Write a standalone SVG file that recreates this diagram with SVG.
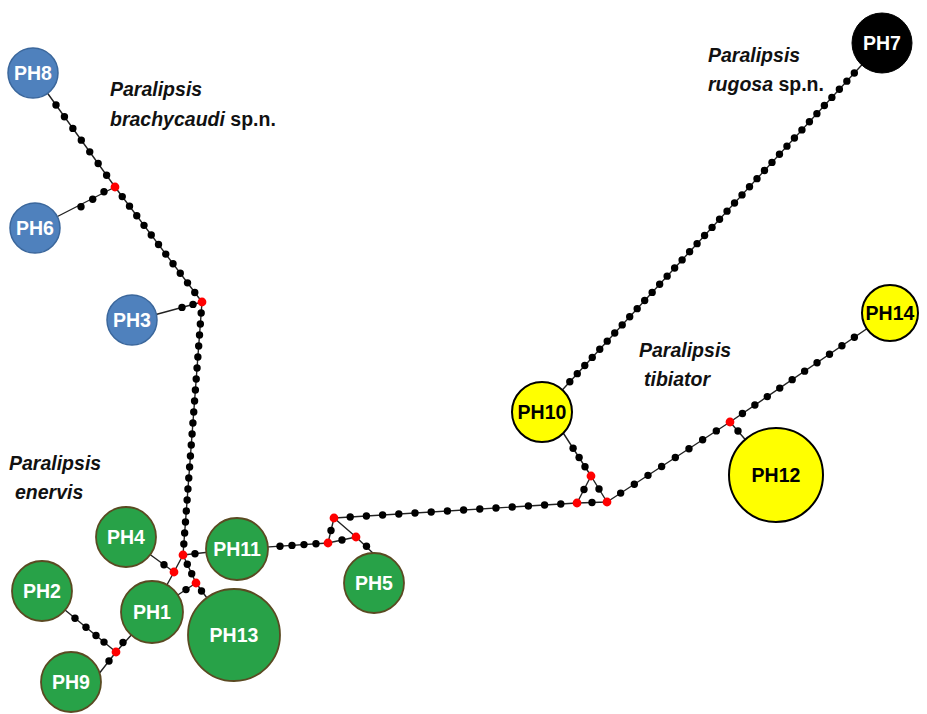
<svg xmlns="http://www.w3.org/2000/svg" width="927" height="714" viewBox="0 0 927 714">
<style>
.ln{stroke:#222;stroke-width:1.4;fill:none}
.ch{fill:none;stroke:#000;stroke-width:7.4;stroke-linecap:round}
.d{fill:#000}
.r{fill:#f00}
.blue{fill:#4f81bd;stroke:#3b679c;stroke-width:1.5}
.green{fill:#28a248;stroke:#5a4a22;stroke-width:1.8}
.yel{fill:#ffff00;stroke:#000;stroke-width:2}
.blk{fill:#000;stroke:#000}
.lbl{font-family:"Liberation Sans",Arial,sans-serif;font-weight:bold;font-size:19.5px;text-anchor:middle}
.w{fill:#fff}
.k{fill:#000}
.sp{font-family:"Liberation Sans",Arial,sans-serif;font-weight:bold;font-style:italic;font-size:19.5px;fill:#111}
.n{font-style:normal}
</style>
<rect width="927" height="714" fill="#fff"/>
<g id="connectors">
  <path class="ln" d="M33,73L115,187M35,228L115,187M115,187L202,302M132,321L202,302M202,302L183,555M183,555L237,549M183,555L174,572M183,555L196,583M174,572L126,537M174,572L152,612M196,583L152,612M196,583L234,635M237,549L328,543M334,518L328,543M328,543L356,537M334,518L356,537M356,537L376,556M334,518L577,503M577,503L591,476M591,476L607,502M577,503L607,502M591,476L560,428M607,502L730,422M730,422L776,475M730,422L890,313M542,412L882,43M116,652L42,591M116,652L152,612M116,652L98,675"/>
  <path class="ch" d="M56,105L107,175.8" stroke-dasharray="0 14.43"/>
  <path class="ch" d="M115,187L202,302" stroke-dasharray="0 12.02"/>
  <path class="ch" d="M202,302L183,555" stroke-dasharray="0 11.03"/>
  <path class="ch" d="M334,518L577,503" stroke-dasharray="0 16.23"/>
  <path class="ch" d="M607,502L730,422" stroke-dasharray="0 16.3"/>
  <path class="ch" d="M730,422L855.2,336.7" stroke-dasharray="0 15.05"/>
  <path class="ch" d="M569.8,381.8L855,72.3" stroke-dasharray="0 11.05"/>
  <g class="d">
    <circle cx="81" cy="206.7" r="3.7"/><circle cx="92.7" cy="199.3" r="3.7"/><circle cx="104" cy="191.7" r="3.7"/>
    <circle cx="182" cy="307.4" r="3.7"/><circle cx="193" cy="304.4" r="3.7"/>
    <circle cx="195" cy="553.7" r="3.7"/>
    <circle cx="187.3" cy="564.3" r="3.7"/><circle cx="191.7" cy="573.7" r="3.7"/>
    <circle cx="164" cy="564.7" r="3.7"/>
    <circle cx="186" cy="589.6" r="3.7"/>
    <circle cx="201.5" cy="591" r="3.7"/>
    <circle cx="280" cy="546.2" r="3.7"/><circle cx="292" cy="545.4" r="3.7"/><circle cx="304" cy="544.6" r="3.7"/><circle cx="316" cy="543.8" r="3.7"/>
    <circle cx="331" cy="530.5" r="3.7"/>
    <circle cx="342" cy="540" r="3.7"/>
    <circle cx="366.5" cy="546.3" r="3.7"/>
    <circle cx="584" cy="489.5" r="3.7"/><circle cx="599" cy="489" r="3.7"/><circle cx="592" cy="502.5" r="3.7"/>
    <circle cx="585" cy="466.7" r="3.7"/><circle cx="579.1" cy="457.5" r="3.7"/><circle cx="573.1" cy="448.2" r="3.7"/>
    <circle cx="738" cy="431" r="3.7"/>
    <circle cx="75" cy="618.2" r="3.7"/><circle cx="86" cy="627.3" r="3.7"/><circle cx="96" cy="635.5" r="3.7"/><circle cx="104" cy="642.1" r="3.7"/>
    <circle cx="123" cy="642.5" r="3.7"/>
    <circle cx="109" cy="661" r="3.7"/>
  </g>
  <g class="r">
    <circle cx="115" cy="187" r="4.4"/><circle cx="202" cy="302" r="4.4"/><circle cx="183" cy="555" r="4.4"/><circle cx="174" cy="572" r="4.4"/><circle cx="196" cy="583" r="4.4"/><circle cx="116" cy="652" r="4.4"/>
    <circle cx="334" cy="518" r="4.4"/><circle cx="328" cy="543" r="4.4"/><circle cx="356" cy="537" r="4.4"/>
    <circle cx="591" cy="476" r="4.4"/><circle cx="577" cy="503" r="4.4"/><circle cx="607" cy="502" r="4.4"/><circle cx="730" cy="422" r="4.4"/>
  </g>
</g>
<g id="PH8"><circle class="blue" cx="33" cy="73" r="25"/><text class="lbl w" x="33" y="80">PH8</text></g>
<g id="PH6"><circle class="blue" cx="35" cy="228" r="25"/><text class="lbl w" x="35" y="235">PH6</text></g>
<g id="PH3"><circle class="blue" cx="132" cy="320" r="25"/><text class="lbl w" x="132" y="327">PH3</text></g>
<g id="PH7"><circle class="blk" cx="882" cy="43" r="30"/><text class="lbl w" x="882" y="50">PH7</text></g>
<g id="PH14"><circle class="yel" cx="890" cy="313" r="28"/><text class="lbl k" x="890" y="320">PH14</text></g>
<g id="PH10"><circle class="yel" cx="542" cy="412" r="30"/><text class="lbl k" x="542" y="419">PH10</text></g>
<g id="PH12"><circle class="yel" cx="776" cy="475" r="47"/><text class="lbl k" x="776" y="482">PH12</text></g>
<g id="PH4"><circle class="green" cx="126" cy="537" r="30"/><text class="lbl w" x="126" y="544">PH4</text></g>
<g id="PH2"><circle class="green" cx="42" cy="591" r="30"/><text class="lbl w" x="42" y="598">PH2</text></g>
<g id="PH1"><circle class="green" cx="152" cy="612" r="31"/><text class="lbl w" x="152" y="619">PH1</text></g>
<g id="PH9"><circle class="green" cx="71" cy="682" r="30"/><text class="lbl w" x="71" y="689">PH9</text></g>
<g id="PH11"><circle class="green" cx="237" cy="549" r="31"/><text class="lbl w" x="237" y="556">PH11</text></g>
<g id="PH13"><circle class="green" cx="234" cy="635" r="46"/><text class="lbl w" x="234" y="642">PH13</text></g>
<g id="PH5"><circle class="green" cx="374" cy="583" r="30"/><text class="lbl w" x="374" y="590">PH5</text></g>
<g id="labels">
  <text class="sp" x="110" y="95.5">Paralipsis</text>
  <text class="sp" x="110" y="125.5">brachycaudi<tspan class="n"> sp.n.</tspan></text>
  <text class="sp" x="708" y="61.5">Paralipsis</text>
  <text class="sp" x="708" y="91">rugosa<tspan class="n"> sp.n.</tspan></text>
  <text class="sp" x="639" y="357">Paralipsis</text>
  <text class="sp" x="644" y="386">tibiator</text>
  <text class="sp" x="9" y="470">Paralipsis</text>
  <text class="sp" x="15" y="499">enervis</text>
</g>
</svg>
